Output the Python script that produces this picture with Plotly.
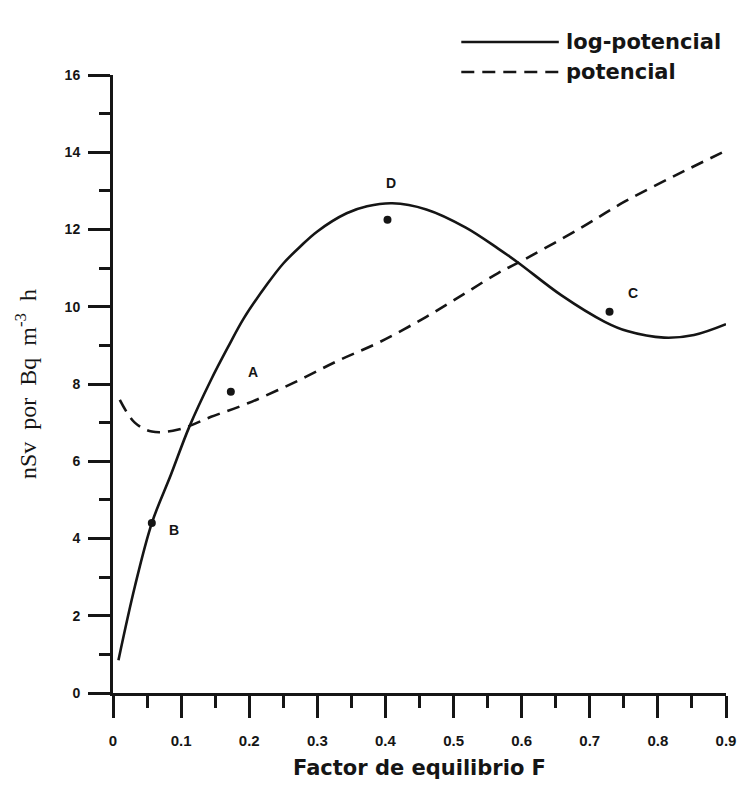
import plotly.graph_objects as go

# Dose conversion (nSv per Bq m^-3 h) versus equilibrium factor F
f_log = [0.008, 0.032, 0.057, 0.085, 0.112, 0.144, 0.169, 0.192, 0.227, 0.25,
         0.275, 0.3, 0.343, 0.373, 0.41, 0.46, 0.518, 0.566, 0.595, 0.658,
         0.722, 0.755, 0.809, 0.853, 0.9]
d_log = [0.85, 2.75, 4.4, 5.65, 6.89, 8.11, 8.96, 9.7, 10.6, 11.12,
         11.56, 11.95, 12.42, 12.6, 12.68, 12.52, 12.05, 11.5, 11.14, 10.3,
         9.61, 9.37, 9.2, 9.27, 9.55]

f_pot = [0.01, 0.032, 0.057, 0.096, 0.144, 0.198, 0.265, 0.33, 0.392, 0.46,
         0.518, 0.566, 0.595, 0.683, 0.751, 0.828, 0.894]
d_pot = [7.59, 7.0, 6.77, 6.82, 7.15, 7.5, 8.03, 8.6, 9.09, 9.74,
         10.36, 10.88, 11.14, 12.0, 12.72, 13.42, 13.99]

pt_labels = ["A", "B", "C", "D"]
pt_f = [0.173, 0.057, 0.729, 0.403]
pt_d = [7.8, 4.4, 9.87, 12.25]

x_ticks = [0, 0.1, 0.2, 0.3, 0.4, 0.5, 0.6, 0.7, 0.8, 0.9]
x_ticktext = ["0", "0.1", "0.2", "0.3", "0.4", "0.5", "0.6", "0.7", "0.8", "0.9"]
y_ticks = [0, 2, 4, 6, 8, 10, 12, 14, 16]

series_names = ["log-potencial", "potencial"]

# ---- layout constants ----
W, H = 748, 798
L, R, T, B = 113, 19, 75, 105
INK = "#151515"
DASH = "13px,8px"
SANS = "DejaVu Sans"
XTICKFONT = dict(family="Liberation Sans", size=15, color=INK, weight="bold")
YTICKFONT = dict(family="Liberation Sans", size=14, color=INK, weight="bold")

# label offsets (pixels) for the marked points
label_shift = {"A": (22, 20), "B": (22, -7), "C": (23, 19), "D": (4, 37)}


def paper(px, py):
    """Pixel position on the page -> paper coordinates."""
    return (px - L) / (W - L - R), (H - B - py) / (H - T - B)


fig = go.Figure()
fig.add_trace(go.Scatter(
    x=f_log, y=d_log, mode="lines", name=series_names[0], showlegend=False,
    line=dict(color=INK, width=2.6, shape="spline", smoothing=1.0)))
fig.add_trace(go.Scatter(
    x=f_pot, y=d_pot, mode="lines", name=series_names[1], showlegend=False,
    line=dict(color=INK, width=2.6, dash=DASH, shape="spline", smoothing=1.0)))
fig.add_trace(go.Scatter(
    x=pt_f, y=pt_d, mode="markers", showlegend=False,
    marker=dict(color=INK, size=8)))

annotations = []
for lab, fx, dy in zip(pt_labels, pt_f, pt_d):
    sx, sy = label_shift[lab]
    annotations.append(dict(
        x=fx, y=dy, xref="x", yref="y", text=lab, showarrow=False,
        xshift=sx, yshift=sy, xanchor="center", yanchor="middle",
        font=dict(family="Liberation Sans", size=14, color=INK, weight="bold")))

# legend drawn as line samples with text
shapes = []
legend_rows = [(42, "solid"), (72, DASH)]
for (ly, dash), name in zip(legend_rows, series_names):
    x0, y0 = paper(463, ly)
    x1, _ = paper(561, ly)
    shapes.append(dict(type="line", xref="paper", yref="paper",
                       x0=x0, x1=x1, y0=y0, y1=y0,
                       line=dict(color=INK, width=2.6, dash=dash)))
    tx, ty = paper(566, ly)
    annotations.append(dict(
        x=tx, y=ty, xref="paper", yref="paper", text=name, showarrow=False,
        xanchor="left", yanchor="middle",
        font=dict(family=SANS, size=21, color=INK, weight="bold")))

fig.update_layout(
    width=W, height=H,
    margin=dict(l=L, r=R, t=T, b=B),
    paper_bgcolor="white", plot_bgcolor="white",
    showlegend=False,
    annotations=annotations, shapes=shapes,
    xaxis=dict(
        range=[0, 0.9], tickvals=x_ticks, ticktext=x_ticktext,
        showgrid=False, zeroline=False,
        showline=True, linecolor=INK, linewidth=3,
        ticks="outside", ticklen=22, tickwidth=2.5, tickcolor=INK,
        ticklabelstandoff=10,
        minor=dict(tickmode="linear", tick0=0, dtick=0.05, ticks="outside",
                   ticklen=12, tickwidth=2.5, tickcolor=INK, showgrid=False),
        tickfont=XTICKFONT,
        title=dict(text="Factor de equilibrio F", standoff=13,
                   font=dict(family=SANS, size=21, color=INK, weight="bold")),
    ),
    yaxis=dict(
        range=[0, 16], tickvals=y_ticks,
        showgrid=False, zeroline=False,
        showline=True, linecolor=INK, linewidth=3,
        ticks="outside", ticklen=22, tickwidth=2.5, tickcolor=INK,
        ticklabelstandoff=5,
        minor=dict(tickmode="linear", tick0=0, dtick=1, ticks="outside",
                   ticklen=11, tickwidth=2.5, tickcolor=INK, showgrid=False),
        tickfont=YTICKFONT,
        title=dict(text="nSv  por  Bq  m<sup>-3</sup>  h", standoff=22,
                   font=dict(family="Liberation Serif", size=24, color=INK)),
    ),
)

fig.write_html("out.html")
